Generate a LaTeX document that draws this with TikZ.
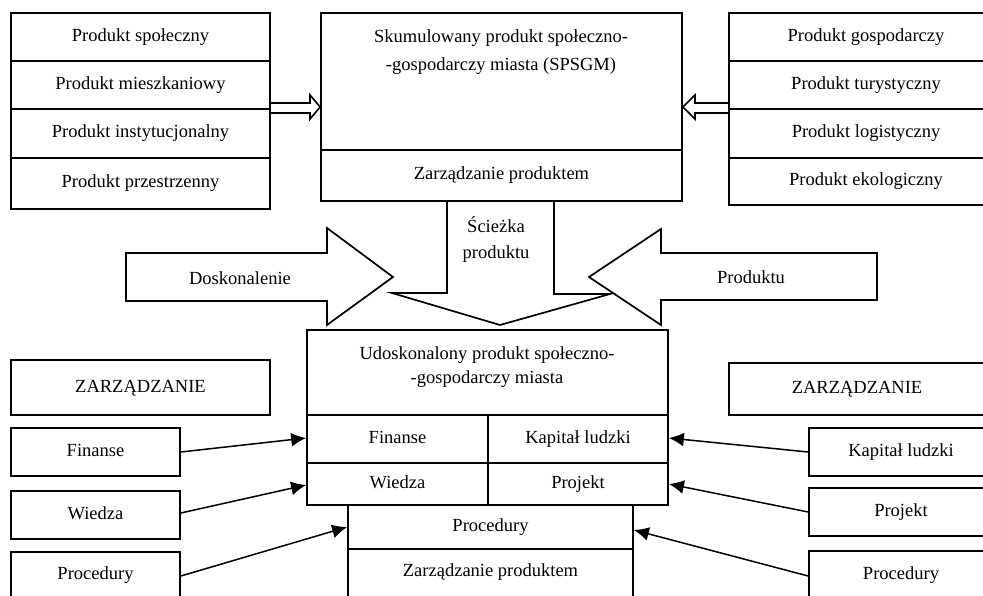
\documentclass[tikz,border=0pt]{standalone}
\usepackage{fontspec}
\setmainfont{Liberation Serif}
\usetikzlibrary{arrows.meta}
\begin{document}
\begin{tikzpicture}[x=1pt,y=-1pt,
  line width=1.7pt, line join=miter,
  bx/.style={draw, inner sep=0pt, text height=13pt, text depth=4pt, font=\fontsize{18.5}{26}\selectfont},
  txt/.style={inner sep=0pt, align=center, font=\fontsize{18.5}{26}\selectfont},
  conn/.style={line width=1.5pt, -{Latex[length=15pt,width=14pt]}},
  hollow/.style={line width=1.6pt}]
\clip (0,0) rectangle (983,596);
\fill[white] (0,0) rectangle (983,596);
\newcommand\bx[6]{\node[bx, minimum width={#4-#2}, minimum height={#5-#3}] (#1) at ({(#2+#4)/2},{(#3+#5)/2}) {#6};}
% left stack
\bx{ls1}{11}{13}{270}{61}{Produkt społeczny}
\bx{ls2}{11}{61}{270}{109}{Produkt mieszkaniowy}
\bx{ls3}{11}{109}{270}{158}{Produkt instytucjonalny}
\bx{ls4}{11}{158}{270}{209}{Produkt przestrzenny}
% right stack
\bx{rs1}{729}{13}{1003}{61}{Produkt gospodarczy}
\bx{rs2}{729}{61}{1003}{109}{Produkt turystyczny}
\bx{rs3}{729}{109}{1003}{158}{Produkt logistyczny}
\bx{rs4}{729}{158}{1003}{205}{Produkt ekologiczny}
% top center
\bx{top}{321}{13}{682}{150}{}
\node[txt, anchor=north, font=\fontsize{18.5}{28}\selectfont] (toptxt) at (501,29) {Skumulowany produkt społeczno-\\-gospodarczy miasta (SPSGM)};
\bx{topz}{321}{150}{682}{201}{Zarządzanie produktem}
% hollow arrows into top box
\draw[hollow] (ls2.south east |- 0,103) -- (310,103) -- (310,95) -- (top.west |- 0,107) -- (310,119) -- (310,113) -- (ls2.south east |- 0,113);
\draw[hollow] (rs2.south west |- 0,103) -- (695,103) -- (695,95) -- (top.east |- 0,107) -- (695,119) -- (695,113) -- (rs2.south west |- 0,113);
% path arrow
\draw (447,201) -- (447,293) -- (392,293) -- (500,325) -- (610,294) -- (554,294) -- (554,201);
\node[txt] (path) at (496,240) {Ścieżka\\produktu};
% Doskonalenie arrow
\draw (126,253) -- (327,253) -- (327,228) -- (393,277) -- (327,325) -- (327,301) -- (126,301) -- cycle;
\node[txt] (dosk) at (240,278) {Doskonalenie};
% Produktu arrow
\draw (877,253) -- (661,253) -- (661,229) -- (589,277) -- (661,325) -- (661,300) -- (877,300) -- cycle;
\node[txt] (prod) at (751,277) {Produktu};
% bottom center
\bx{bot}{307}{330}{668}{415}{}
\node[txt, anchor=north, font=\fontsize{18.5}{24}\selectfont] (bottxt) at (487,346) {Udoskonalony produkt społeczno-\\-gospodarczy miasta};
\bx{bfin}{307}{415}{488}{463}{Finanse}
\bx{bkap}{488}{415}{668}{463}{Kapitał ludzki}
\bx{bwie}{307}{463}{488}{505}{Wiedza}
\bx{bpro}{488}{463}{668}{505}{Projekt}
\bx{bproc}{348}{505}{633}{549}{Procedury}
\bx{bzarz}{348}{549}{633}{605}{\raisebox{5pt}{Zarządzanie produktem}}
% left management
\bx{lz}{11}{360}{270}{415}{ZARZĄDZANIE}
\bx{lfin}{11}{428}{180}{476}{Finanse}
\bx{lwie}{11}{491}{180}{539}{Wiedza}
\bx{lproc}{11}{552}{180}{605}{\raisebox{4pt}{Procedury}}
% right management
\bx{rz}{729}{363}{985}{415}{ZARZĄDZANIE}
\bx{rkap}{809}{428}{993}{476}{Kapitał ludzki}
\bx{rpro}{809}{488}{993}{536}{Projekt}
\bx{rproc}{809}{551}{993}{605}{\raisebox{3pt}{Procedury}}
% connectors
\draw[conn] (lfin.east |- 0,452) -- (bfin.west |- 0,438);
\draw[conn] (lwie.east |- 0,513) -- (bwie.west |- 0,485);
\draw[conn] (lproc.east |- 0,576) -- (bproc.west |- 0,527);
\draw[conn] (rkap.west |- 0,452) -- (bkap.east |- 0,438);
\draw[conn] (rpro.west |- 0,512) -- (bpro.east |- 0,484);
\draw[conn] (rproc.west |- 0,576) -- (bproc.east |- 0,530);
\end{tikzpicture}
\end{document}
